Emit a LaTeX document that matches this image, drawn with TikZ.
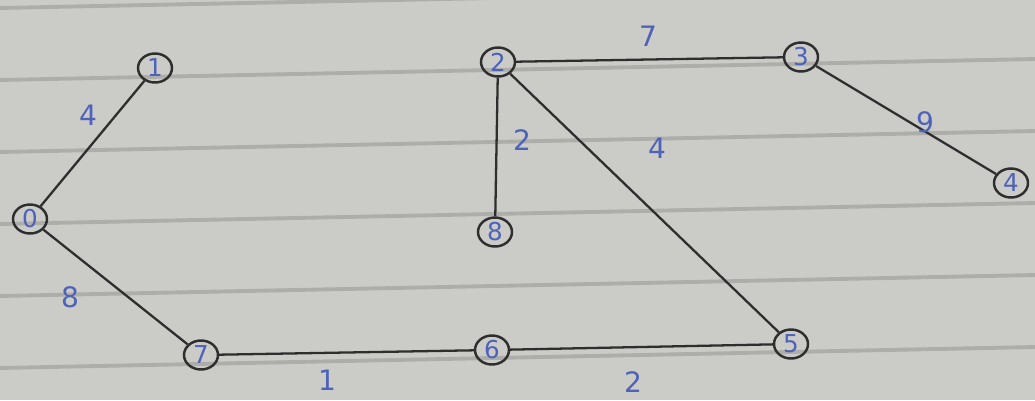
\documentclass[tikz,border=0pt]{standalone}
\usepackage{fontspec}
\setmainfont{DejaVu Sans}
\usetikzlibrary{shapes.geometric}
\definecolor{paper}{HTML}{CBCBC7}
\definecolor{rule}{HTML}{ADADA9}
\definecolor{ink}{HTML}{2E2E2E}
\definecolor{pen}{HTML}{4D62B8}
\begin{document}
\begin{tikzpicture}[x=0.02cm,y=-0.02cm,
  vtx/.style={draw=ink,line width=1.4pt,ellipse,inner sep=0pt,minimum width=0.68cm,minimum height=0.58cm,text=pen,font=\fontsize{14}{14}\selectfont},
  edge/.style={draw=ink,line width=1.3pt},
  wt/.style={text=pen,font=\fontsize{16}{16}\selectfont}]
\fill[paper] (0,0) rectangle (1035,400);
\useasboundingbox (0,0) rectangle (1035,400);
\foreach \k in {-1,0,1,2,3,4}
  \draw[rule,line width=2.2pt] (0,80+72*\k) -- (1035,59+72*\k);
\node[vtx] (n1) at (155,68) {1};
\node[vtx] (n0) at (30,219) {0};
\node[vtx] (n7) at (201,355) {7};
\node[vtx] (n6) at (492,350) {6};
\node[vtx] (n5) at (791,344) {5};
\node[vtx] (n2) at (498,62) {2};
\node[vtx] (n8) at (495,232) {8};
\node[vtx] (n3) at (801,57) {3};
\node[vtx] (n4) at (1011,183) {4};
\draw[edge] (n0) -- (n1);
\draw[edge] (n0) -- (n7);
\draw[edge] (n7) -- (n6);
\draw[edge] (n6) -- (n5);
\draw[edge] (n2) -- (n5);
\draw[edge] (n2) -- (n8);
\draw[edge] (n2) -- (n3);
\draw[edge] (n3) -- (n4);
\node[wt] (w01) at (88,115) {4};
\node[wt] (w07) at (70,297) {8};
\node[wt] (w76) at (327,380) {1};
\node[wt] (w65) at (633,382) {2};
\node[wt] (w28) at (522,140) {2};
\node[wt] (w25) at (657,148) {4};
\node[wt] (w23) at (648,36) {7};
\node[wt] (w34) at (925,122) {9};
\end{tikzpicture}
\end{document}
